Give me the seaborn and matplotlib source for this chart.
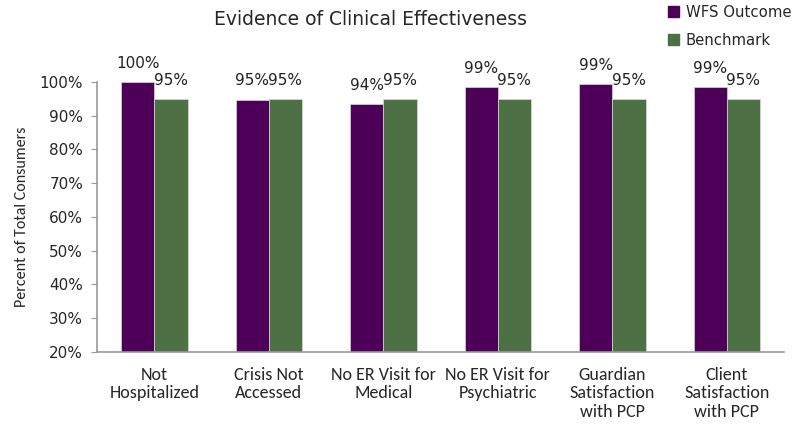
import matplotlib
matplotlib.use("Agg")
import matplotlib.pyplot as plt
import seaborn as sns
import pandas as pd

categories = ["Not\nHospitalized", "Crisis Not\nAccessed", "No ER Visit for\nMedical",
              "No ER Visit for\nPsychiatric", "Guardian\nSatisfaction\nwith PCP",
              "Client\nSatisfaction\nwith PCP"]
wfs_outcome = [100.0, 94.8, 93.5, 98.6, 99.4, 98.6]
benchmark = [95, 95, 95, 95, 95, 95]
series_names = ["WFS Outcome", "Benchmark"]
colors = ["#4d0057", "#4e7045"]

df = pd.DataFrame({
    "cat": categories * 2,
    "value": wfs_outcome + benchmark,
    "series": [series_names[0]] * 6 + [series_names[1]] * 6,
})

sns.set_style("white")
plt.rcParams["font.family"] = ["DejaVu Sans"]
narrow = ["Carlito", "Liberation Sans Narrow", "Roboto Condensed", "DejaVu Sans"]

fig = plt.figure(figsize=(7.96, 4.25), dpi=100)
ax = fig.add_axes([0.122, 0.172, 0.863, 0.635])

sns.barplot(data=df, x="cat", y="value", hue="series", palette=colors,
            saturation=1, width=0.58, gap=0, ax=ax,
            edgecolor="#d9d9d9", linewidth=0.5)

# data labels
for cont in ax.containers:
    ax.bar_label(cont, labels=[f"{v:.0f}%" for v in cont.datavalues],
                 padding=8, fontsize=11, color="#222222")

ax.set_ylim(20, 100)
ax.set_xlim(-0.5, 5.5)
ax.set_yticks(range(20, 101, 10))
ax.set_yticklabels([f"{t}%" for t in range(20, 101, 10)], fontsize=11)
ax.set_xticks(range(6))
ax.set_xticklabels(categories, fontsize=13, family=narrow, linespacing=1.17)
ax.tick_params(axis="x", length=0, pad=11)
ax.tick_params(axis="y", length=4, color="#999999", direction="out", left=True, pad=6)
ax.set_xlabel("")
ax.set_ylabel("Percent of Total Consumers", fontsize=11.5, family=narrow, labelpad=8)

for s in ["top", "right"]:
    ax.spines[s].set_visible(False)
for s in ["left", "bottom"]:
    ax.spines[s].set_color("#999999")
    ax.spines[s].set_linewidth(1.2)

ax.legend_.remove()
handles = [plt.Rectangle((0, 0), 1, 1, color=c) for c in colors]
fig.legend(handles, series_names, loc="upper left", bbox_to_anchor=(0.823, 1.02),
           frameon=False, fontsize=10.7, handlelength=0.7, handleheight=0.7,
           handletextpad=0.45, labelspacing=0.85)

fig.text(0.466, 0.955, "Evidence of Clinical Effectiveness", ha="center",
         va="center", fontsize=13.5)

fig.savefig("out.png", dpi=100)
